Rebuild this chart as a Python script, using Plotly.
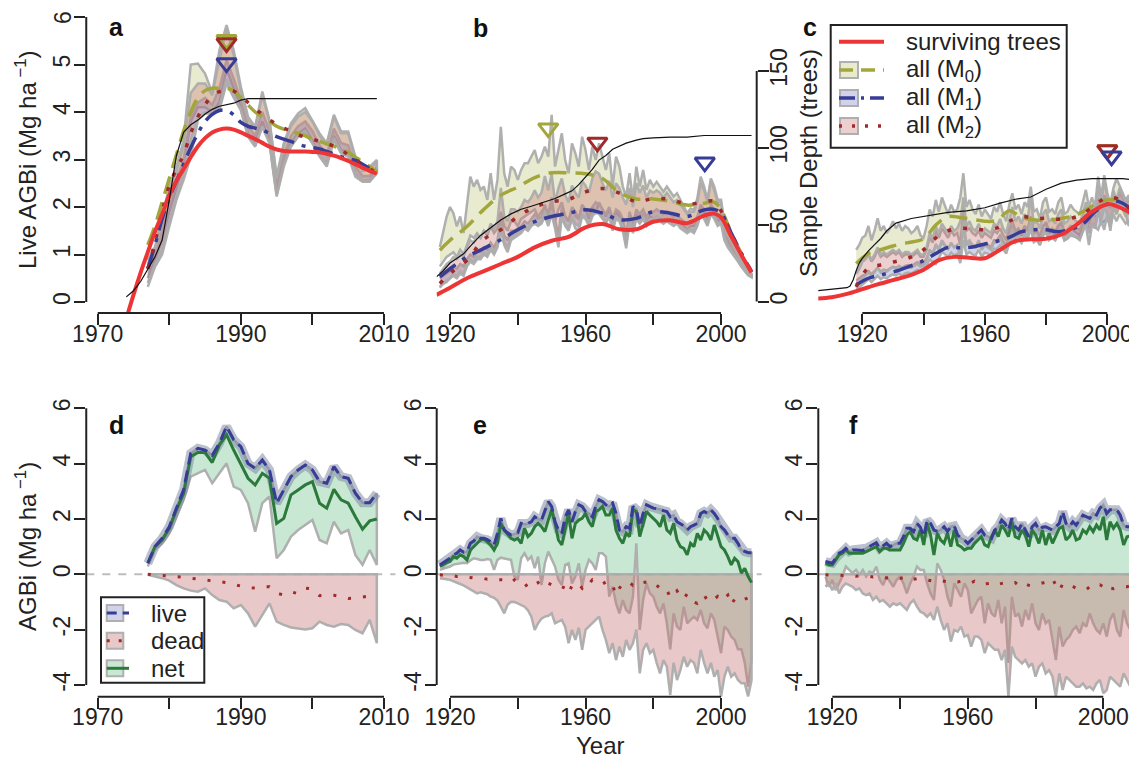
import plotly.graph_objects as go

# The page body adds an 8px margin, so the figure is drawn smaller and all
# reference pixel positions are shifted by that offset.
OFF = 8
W, H = 1137 - OFF, 758 - OFF
FONT = "Liberation Sans, Arial, sans-serif"
AX = "#222222"
BORDER = "rgba(172,172,172,0.95)"

# ---------------- colours ----------------
RED = "#ee3535"
OLIVE = "#a3a63a"
BLUE = "#373c96"
DRED = "#a02a2a"
GREEN = "#2b7a3b"
F_M0 = "rgba(189,195,112,0.33)"
F_M1 = "rgba(112,121,189,0.33)"
F_M2 = "rgba(198,112,112,0.33)"
F_NET = "rgba(118,198,148,0.40)"
F_DEAD = "rgba(198,118,118,0.40)"
F_LIVE = "rgba(120,130,160,0.50)"

# ================= DATA =================
# ---- panel a (live AGBi, site 1) ----
years_a = list(range(1977, 2010))
a_M0_hi = [0.88,1.16,1.8,2.43,2.85,3.4,5.0,5.02,4.81,4.4,5.3,5.83,5.3,4.53,3.9,3.69,4.43,3.83,2.64,3.34,3.76,3.97,4.08,3.83,3.55,3.34,3.94,3.59,3.59,3.06,2.78,2.85,2.99]
a_M0_lo = [0.5,0.9,1.3,1.9,2.4,2.9,3.8,4.1,4.1,4.0,4.2,4.9,4.5,4.1,3.55,3.35,3.8,3.4,2.3,2.95,3.35,3.55,3.65,3.4,3.1,2.9,3.5,3.2,3.15,2.7,2.55,2.55,2.75]
a_M1_hi = [0.7,1.0,1.5,2.1,2.55,3.0,3.9,4.2,4.3,4.15,4.5,5.1,4.7,4.25,3.7,3.5,4.0,3.6,2.45,3.1,3.5,3.7,3.8,3.6,3.3,3.1,3.65,3.35,3.3,2.85,2.65,2.65,2.85]
a_M1_lo = [0.32,0.74,1.0,1.59,2.15,2.57,3.06,3.83,3.97,3.97,4.04,4.6,4.3,4.04,3.48,3.27,3.69,3.34,2.22,2.85,3.27,3.48,3.55,3.34,3.06,2.85,3.41,3.13,3.06,2.64,2.53,2.53,2.71]
a_M2_hi = [0.8,1.1,1.7,2.3,2.75,3.3,4.4,4.6,4.6,4.35,5.1,5.75,5.2,4.45,3.85,3.65,4.35,3.8,2.6,3.3,3.7,3.9,4.0,3.8,3.5,3.3,3.9,3.55,3.55,3.0,2.75,2.8,2.95]
a_M2_lo = [0.4,0.8,1.1,1.7,2.2,2.7,3.4,3.9,4.0,4.0,4.1,4.7,4.35,4.05,3.5,3.3,3.7,3.35,2.25,2.9,3.3,3.5,3.6,3.35,3.1,2.9,3.45,3.15,3.1,2.7,2.55,2.55,2.72]
a_M0 = [1.2,1.6,2.1,2.6,3.1,3.6,4.0,4.3,4.45,4.5,4.5,4.5,4.45,4.3,4.15,4.0,3.9,3.8,3.7,3.64,3.6,3.55,3.5,3.43,3.38,3.33,3.28,3.22,3.15,3.05,2.95,2.85,2.75]
a_M1 = [0.7,1.2,1.75,2.2,2.55,2.9,3.25,3.55,3.8,3.95,4.03,4.03,3.94,3.78,3.7,3.66,3.62,3.55,3.48,3.43,3.38,3.32,3.28,3.25,3.22,3.17,3.12,3.06,3.02,2.98,2.9,2.81,2.75]
a_M2 = [0.7,1.25,1.9,2.45,2.8,3.1,3.55,3.9,4.15,4.35,4.43,4.45,4.44,4.32,4.2,4.07,3.95,3.84,3.74,3.66,3.6,3.52,3.47,3.43,3.38,3.34,3.28,3.2,3.1,3.0,2.9,2.8,2.72]
years_a_full = list(range(1974, 2010))
a_surv = [-0.35,0.15,0.62,1.05,1.48,1.85,2.25,2.55,2.8,3.05,3.28,3.45,3.57,3.63,3.65,3.63,3.57,3.5,3.43,3.35,3.27,3.21,3.18,3.17,3.17,3.17,3.16,3.15,3.12,3.08,3.03,2.97,2.9,2.83,2.76,2.7]
a_depth = [3,7,13,21,29,40,66,95,110,115,118,122,125,127,128,129,131,132,132,132,132,132,132,132,132,132,132,132,132,132,132,132,132,132,132,132]
a_peak_x = [1988, 1988, 1988]          # M0, M1, M2
a_peak_y = [5.52, 5.03, 5.45]

# ---- panel b ----
years_b = list(range(1917, 2010))
b_M0_hi = [1.16,1.52,1.8,
 2.0,1.87,1.59,1.8,1.45,2.08,2.64,2.43,2.57,2.36,
 2.43,2.15,2.71,2.15,2.57,3.69,2.71,2.43,2.85,2.78,
 2.57,2.78,2.92,2.92,3.06,3.2,2.92,3.06,3.27,3.06,
 3.94,2.85,3.2,3.55,2.99,2.71,3.34,3.13,2.85,3.48,
 3.2,2.78,3.27,2.99,3.34,3.06,2.78,3.13,2.43,3.06,
 2.85,2.43,2.22,2.71,2.15,2.85,2.43,2.78,2.36,2.57,
 2.43,2.53,2.43,2.32,2.43,2.32,2.22,2.29,2.15,2.0,
 1.87,1.97,1.94,2.18,2.64,2.43,2.15,2.6,2.43,2.15,
 2.15,1.66,1.45,1.31,1.16,1.02,0.88,0.74,0.64,0.6]
b_M0_lo = [0.75,0.85,0.95,
 1.0,1.05,0.95,1.1,1.0,1.2,1.4,1.35,1.45,1.35,
 1.5,1.4,1.6,1.45,1.55,1.9,1.6,1.5,1.7,1.7,
 1.6,1.75,1.8,1.85,1.9,1.95,1.8,1.9,2.0,1.85,
 2.2,1.7,1.95,2.1,1.8,1.7,2.0,1.9,1.75,2.05,
 1.95,1.75,2.0,1.85,2.1,1.95,1.8,1.95,1.6,1.9,
 1.8,1.6,1.45,1.75,1.5,1.85,1.65,1.85,1.65,1.8,
 1.75,1.8,1.75,1.7,1.75,1.7,1.65,1.7,1.65,1.6,
 1.5,1.6,1.6,1.75,2.0,1.85,1.7,1.95,1.85,1.7,
 1.75,1.4,1.25,1.15,1.0,0.9,0.78,0.67,0.58,0.55]
b_M1_hi = [0.5,0.55,0.6,
 0.65,0.75,0.7,0.8,0.75,0.9,1.0,0.95,1.05,1.05,
 1.15,1.1,1.25,1.15,1.3,1.75,1.4,1.3,1.5,1.5,
 1.55,1.6,1.7,1.65,1.75,1.85,1.75,1.8,2.05,1.8,
 2.05,1.7,1.4,2.0,1.8,1.7,1.95,1.8,1.75,2.0,
 1.95,1.8,2.0,2.1,2.05,1.95,1.85,2.0,1.75,1.95,
 1.9,1.75,1.35,1.9,1.65,1.95,1.85,1.95,1.8,1.9,
 1.9,1.95,1.9,1.85,1.9,1.85,1.8,1.85,1.75,1.7,
 1.65,1.7,1.65,1.8,2.05,1.95,1.8,2.05,1.95,1.8,
 1.85,1.45,1.3,1.18,1.05,0.94,0.81,0.7,0.6,0.56]
b_M1_lo = [0.32,0.38,0.42,
 0.5,0.55,0.5,0.6,0.55,0.75,0.85,0.8,0.9,0.9,
 1.0,0.95,1.1,1.0,1.15,1.5,1.2,1.05,1.3,1.35,
 1.4,1.45,1.55,1.5,1.6,1.65,1.6,1.65,1.8,1.6,
 1.85,1.55,1.15,1.8,1.6,1.5,1.75,1.55,1.5,1.8,
 1.75,1.6,1.8,1.9,1.85,1.75,1.65,1.8,1.5,1.75,
 1.7,1.5,1.13,1.7,1.45,1.75,1.65,1.75,1.6,1.7,
 1.7,1.75,1.7,1.65,1.7,1.65,1.6,1.65,1.55,1.5,
 1.45,1.5,1.45,1.6,1.85,1.75,1.6,1.85,1.75,1.6,
 1.65,1.3,1.15,1.05,0.95,0.85,0.74,0.64,0.56,0.52]
b_M2_hi = [0.6,0.7,0.8,
 0.85,0.95,0.9,1.0,0.95,1.15,1.3,1.25,1.4,1.35,
 1.5,1.45,1.65,1.55,1.7,2.4,1.8,1.7,1.95,1.95,
 1.9,2.0,2.15,2.1,2.2,2.35,2.2,2.3,2.65,2.35,
 2.7,2.1,2.4,2.6,2.25,2.1,2.45,2.3,2.2,2.55,
 2.45,2.3,2.6,2.75,2.7,2.5,2.35,2.55,2.2,2.5,
 2.4,2.2,2.05,2.4,2.0,2.5,2.3,2.45,2.2,2.35,
 2.3,2.35,2.3,2.2,2.3,2.2,2.1,2.15,2.05,1.95,
 1.85,1.9,1.9,2.1,2.5,2.35,2.1,2.55,2.35,2.1,
 2.1,1.6,1.4,1.28,1.13,1.0,0.86,0.72,0.63,0.58]
b_M2_lo = [0.3,0.4,0.45,
 0.5,0.6,0.55,0.65,0.6,0.8,0.9,0.85,0.95,0.95,
 1.05,1.0,1.15,1.05,1.2,1.6,1.25,1.15,1.35,1.4,
 1.45,1.5,1.6,1.55,1.65,1.75,1.65,1.7,1.9,1.7,
 1.9,1.6,1.25,1.85,1.65,1.55,1.8,1.65,1.6,1.85,
 1.8,1.65,1.85,1.95,1.9,1.8,1.7,1.85,1.6,1.8,
 1.75,1.6,1.2,1.75,1.5,1.8,1.7,1.8,1.65,1.75,
 1.75,1.8,1.75,1.7,1.75,1.7,1.65,1.7,1.6,1.55,
 1.5,1.55,1.5,1.65,1.9,1.8,1.65,1.9,1.8,1.65,
 1.7,1.35,1.2,1.1,0.98,0.88,0.76,0.66,0.57,0.54]
years_bm = [1917,1920,1925,1930,1935,1940,1945,1950,1955,1960,1965,1970,1975,1980,1985,1990,1995,1998,2000,2003,2006,2009]
b_M0 = [1.09,1.3,1.59,1.95,2.25,2.42,2.62,2.72,2.72,2.7,2.6,2.3,2.17,2.17,2.12,2.04,2.08,2.1,1.95,1.45,1.02,0.64]
b_M1 = [0.53,0.7,0.95,1.13,1.31,1.52,1.69,1.8,1.87,1.94,1.87,1.73,1.76,1.9,1.87,1.8,1.94,1.95,1.87,1.45,1.02,0.64]
b_M2 = [0.39,0.6,0.88,1.32,1.52,1.8,2.0,2.11,2.16,2.32,2.39,2.29,2.11,2.18,2.16,2.06,2.11,2.12,1.92,1.45,1.02,0.64]
years_bs = [1916,1920,1925,1930,1935,1940,1945,1950,1955,1960,1965,1970,1975,1980,1985,1990,1995,1998,2000,2003,2006,2009]
b_surv = [0.15,0.3,0.5,0.65,0.8,0.95,1.15,1.29,1.37,1.57,1.64,1.53,1.53,1.69,1.72,1.66,1.82,1.86,1.78,1.38,0.99,0.62]
years_bd = [1916,1918,1920,1922,1924,1926,1929,1932,1935,1938,1941,1944,1947,1951,1954,1956,1958,1960,1962,1964,1966,1968,1970,1972,1975,1977,1980,1985,1990,1995,2000,2009]
b_depth = [16,20,25,28,31,36,43,48,53,57,60,62,64,67,70,72,76,81,86,92,95,99,101,103,105,106,106.5,107,107,108,108,108]
b_peak_x = [1949.0, 1995.2, 1963.5]
b_peak_y = [3.66, 2.94, 3.36]

# ---- panel c ----
years_c = list(range(1918, 2010))
c_M0_hi = [1.1,1.2,
 1.35,1.4,1.6,1.3,1.5,1.76,1.5,1.6,1.45,1.55,
 1.7,1.55,1.65,1.5,1.6,1.55,1.45,1.5,1.6,1.4,
 1.35,1.6,1.95,1.8,2.15,1.9,2.2,2.0,1.85,2.05,
 1.9,1.95,2.2,2.71,2.0,2.15,1.95,1.85,2.05,1.8,
 1.95,1.85,1.75,2.0,1.9,2.1,1.85,1.7,2.05,2.29,
 1.95,2.05,1.85,2.1,2.0,2.43,1.9,1.95,1.75,2.1,
 2.2,1.9,1.95,1.85,2.1,2.2,1.85,1.9,2.05,1.95,
 1.9,1.85,2.1,2.36,2.0,2.2,2.0,2.64,2.2,2.67,
 2.3,2.05,2.4,2.6,2.45,2.3,2.15,2.25,2.1,1.95]
c_M0_lo = [0.6,0.7,
 0.85,0.9,1.0,0.85,0.95,1.1,0.95,1.0,0.95,1.0,
 1.05,1.0,1.05,0.95,1.0,1.0,0.95,1.0,1.05,0.95,
 0.95,1.1,1.35,1.25,1.5,1.35,1.55,1.45,1.35,1.5,
 1.4,1.45,1.2,1.95,1.5,1.55,1.45,1.4,1.5,1.35,
 1.45,1.4,1.35,1.5,1.45,1.55,1.4,1.3,1.55,1.7,
 1.5,1.55,1.4,1.6,1.5,1.8,1.45,1.5,1.35,1.6,
 1.65,1.45,1.5,1.4,1.6,1.65,1.4,1.45,1.55,1.5,
 1.45,1.4,1.6,1.75,1.5,1.65,1.55,1.95,1.65,1.7,
 1.75,1.6,1.85,1.7,1.85,1.75,1.65,1.7,1.6,1.5]
c_M1_hi = [0.45,0.5,
 0.55,0.58,0.65,0.58,0.64,0.72,0.64,0.68,0.66,0.7,
 0.74,0.72,0.76,0.72,0.76,0.78,0.76,0.8,0.84,0.8,
 0.82,0.92,1.08,1.02,1.18,1.1,1.25,1.18,1.12,1.22,
 1.15,1.2,1.0,1.55,1.2,1.25,1.18,1.15,1.28,1.12,
 1.22,1.2,1.15,1.3,1.3,1.4,1.28,1.2,1.45,1.6,
 1.45,1.52,1.42,1.6,1.52,1.8,1.45,1.5,1.38,1.6,
 1.68,1.5,1.55,1.48,1.62,1.68,1.48,1.52,1.6,1.58,
 1.55,1.52,1.68,1.85,1.65,1.85,1.8,2.2,1.95,2.25,
 2.1,1.98,2.25,2.1,2.3,2.2,2.08,2.15,2.0,1.87]
c_M1_lo = [0.25,0.3,
 0.38,0.42,0.48,0.42,0.48,0.55,0.48,0.52,0.5,0.55,
 0.58,0.56,0.6,0.55,0.6,0.62,0.6,0.64,0.68,0.64,
 0.66,0.76,0.9,0.84,0.8,0.92,1.06,1.0,0.95,1.04,
 0.98,1.02,0.82,1.3,1.0,1.05,1.0,0.98,1.1,0.95,
 1.04,1.02,0.98,1.12,1.12,1.2,1.1,1.02,1.25,1.38,
 1.25,1.32,1.24,1.4,1.33,1.55,1.26,1.3,1.2,1.4,
 1.46,1.3,1.35,1.3,1.42,1.46,1.3,1.33,1.4,1.38,
 1.36,1.33,1.48,1.62,1.2,1.62,1.58,1.52,1.7,1.52,
 1.85,1.5,2.0,1.85,2.05,1.95,1.85,1.6,1.78,1.72]
c_M2_hi = [0.6,0.7,
 0.85,0.9,1.0,0.9,1.0,1.15,1.0,1.05,1.0,1.05,
 1.1,1.05,1.1,1.0,1.05,1.05,1.0,1.05,1.1,1.0,
 1.0,1.15,1.45,1.35,1.6,1.45,1.65,1.55,1.45,1.6,
 1.5,1.55,1.7,2.2,1.6,1.7,1.55,1.5,1.65,1.45,
 1.55,1.5,1.45,1.65,1.6,1.75,1.55,1.45,1.75,2.0,
 1.7,1.8,1.65,1.85,1.75,2.2,1.65,1.7,1.55,1.85,
 1.95,1.7,1.75,1.65,1.85,1.95,1.65,1.7,1.8,1.75,
 1.7,1.65,1.85,2.1,1.8,2.0,1.85,2.45,2.05,2.55,
 2.2,2.0,2.35,2.15,2.4,2.25,2.1,2.2,2.05,1.9]
c_M2_lo = [0.3,0.4,
 0.5,0.55,0.62,0.55,0.62,0.72,0.62,0.68,0.64,0.7,
 0.74,0.7,0.76,0.7,0.74,0.74,0.72,0.76,0.8,0.74,
 0.76,0.88,1.1,1.02,1.22,1.12,1.3,1.2,1.12,1.25,
 1.15,1.2,0.95,1.7,1.25,1.3,1.2,1.15,1.3,1.1,
 1.2,1.15,1.1,1.25,1.25,1.35,1.2,1.1,1.35,1.55,
 1.35,1.4,1.28,1.45,1.38,1.7,1.3,1.35,1.2,1.45,
 1.55,1.35,1.4,1.3,1.5,1.55,1.3,1.35,1.45,1.4,
 1.35,1.3,1.5,1.7,1.45,1.65,1.55,1.95,1.7,2.0,
 1.85,1.7,2.0,1.85,2.05,1.95,1.8,1.9,1.78,1.7]
years_cm = [1918,1922,1926,1930,1935,1940,1944,1948,1952,1956,1960,1964,1968,1972,1976,1980,1984,1988,1992,1996,2000,2003,2006,2009]
c_M0 = [0.81,1.02,1.1,1.18,1.25,1.33,1.62,1.8,1.78,1.74,1.7,1.72,1.92,1.78,1.73,1.72,1.75,1.8,1.9,2.05,2.15,2.15,2.05,1.83]
c_M1 = [0.36,0.5,0.57,0.63,0.74,0.87,1.02,1.15,1.14,1.16,1.22,1.28,1.36,1.48,1.52,1.52,1.48,1.53,1.64,1.9,2.06,2.12,2.04,1.83]
c_M2 = [0.32,0.72,0.78,0.84,0.92,1.1,1.35,1.5,1.55,1.54,1.52,1.56,1.7,1.8,1.76,1.76,1.74,1.76,1.85,2.05,2.2,2.18,2.05,1.81]
years_cs = [1905,1910,1915,1920,1925,1930,1935,1940,1945,1950,1955,1960,1965,1970,1975,1980,1985,1990,1995,2000,2003,2006,2009]
c_surv = [0.07,0.1,0.17,0.27,0.37,0.46,0.55,0.68,0.88,0.95,0.93,0.92,1.1,1.28,1.32,1.33,1.42,1.63,1.9,2.06,2.02,1.93,1.81]
years_cd = [1905,1915,1916,1917,1918,1919,1920,1922,1924,1926,1928,1931,1936,1942,1948,1954,1960,1965,1970,1975,1980,1985,1990,1995,2000,2005,2009]
c_depth = [7,9,10,14,20,25,28,33,37,41,46,51,54,56,58,59,61,64,66.5,68,73,77,79,80,80,80,79]
c_peak_x = [2000.0, 2001.4, 2000.0]
c_peak_y = [3.2, 3.07, 3.2]

# ---- panel d (1977-2009) ----
d_live = [0.4,1.0,1.3,1.72,2.39,3.05,4.37,4.55,4.49,4.3,4.73,5.34,4.86,4.61,4.0,3.83,4.13,3.77,2.57,3.05,3.53,3.77,3.95,3.77,3.35,3.29,3.89,3.53,3.47,2.93,2.59,2.59,2.93]
d_net = [0.4,1.0,1.24,1.66,2.33,2.93,4.25,4.4,4.4,4.04,4.67,5.04,4.49,3.95,3.47,3.23,3.65,3.47,1.84,2.02,2.87,3.05,3.23,3.35,2.57,2.39,3.07,2.69,2.57,2.08,1.63,1.93,2.0]
d_net_lo = [0.28,0.88,1.12,1.48,2.08,2.69,3.53,3.65,3.77,3.29,3.65,4.01,3.17,3.05,2.57,1.54,2.57,2.81,0.58,0.88,1.36,1.6,1.78,1.96,1.24,1.12,1.9,1.48,1.6,0.7,0.34,0.88,0.34]
d_dead = [0.0,-0.02,-0.03,-0.05,-0.08,-0.11,-0.14,-0.17,-0.2,-0.22,-0.25,-0.3,-0.37,-0.43,-0.48,-0.5,-0.45,-0.45,-0.68,-0.75,-0.63,-0.7,-0.5,-0.53,-0.77,-0.75,-0.76,-0.8,-0.87,-0.86,-0.82,-0.79,-0.75]
d_dead_lo = [-0.02,-0.08,-0.14,-0.23,-0.39,-0.51,-0.59,-0.63,-0.51,-0.75,-0.93,-0.99,-1.23,-1.11,-1.41,-1.89,-1.47,-1.05,-1.71,-1.83,-1.92,-1.95,-1.99,-1.95,-1.71,-1.83,-1.89,-1.8,-1.83,-2.01,-2.13,-1.65,-2.49]

# ---- panel e (1917-2009) ----
years_e = list(range(1917, 2010))
e_live = [0.34,0.42,0.5,
 0.58,0.7,0.76,0.88,0.8,0.82,1.12,1.2,1.36,1.3,
 1.3,1.25,1.18,1.05,1.48,2.02,1.6,1.5,1.42,1.45,
 1.5,1.84,1.8,1.84,1.9,2.08,2.0,1.96,2.33,2.63,
 2.45,1.9,1.6,1.48,2.08,2.33,1.9,2.27,2.51,2.45,
 2.27,2.2,2.08,2.45,2.69,2.63,2.51,2.45,2.57,2.2,
 1.6,1.54,1.72,1.66,2.45,2.35,1.72,2.2,2.51,2.45,
 2.39,2.37,2.35,2.3,2.27,2.08,2.14,1.9,1.84,1.75,
 1.6,1.72,1.78,1.84,2.2,2.27,2.2,2.33,2.2,2.02,
 1.72,1.6,1.42,1.3,1.3,1.12,0.88,0.82,0.78,0.78]
e_net = [0.28,0.36,0.42,
 0.46,0.64,0.58,0.7,0.64,0.52,0.88,1.0,1.12,1.24,
 1.27,1.18,1.06,0.88,1.12,1.84,1.6,1.45,1.3,1.24,
 1.3,1.12,1.66,1.36,1.48,1.72,1.84,1.72,1.54,1.96,
 2.33,1.84,1.24,1.06,1.6,2.2,1.3,1.84,1.96,2.02,
 2.2,1.9,1.72,2.27,2.33,2.45,2.14,2.14,2.39,1.6,
 1.3,1.12,1.48,1.36,2.33,2.27,1.36,1.84,2.27,2.14,
 2.02,1.9,1.72,2.14,1.6,1.48,1.84,1.24,1.0,0.94,
 0.7,1.12,1.0,1.48,1.24,1.6,1.48,1.24,1.78,1.36,
 1.0,0.88,0.64,0.34,0.58,0.46,0.04,0.22,-0.08,-0.3]
e_net_lo = [0.16,0.2,0.24,
 0.28,0.35,0.38,0.4,0.42,0.4,0.5,0.58,0.55,0.52,
 0.52,0.55,0.52,0.16,0.52,0.6,0.58,0.55,0.52,-0.08,
 -0.2,0.58,0.76,0.52,0.64,0.22,0.64,-0.39,0.4,0.82,
 0.52,0.28,-0.2,-0.39,0.34,0.4,-0.33,-0.08,0.4,-0.45,
 0.16,0.52,0.4,0.16,0.76,0.76,0.64,-0.81,-0.45,-1.05,
 -1.41,-0.93,-1.29,-1.41,-0.81,1.12,-2.01,-0.93,-0.33,-0.69,
 -0.81,-1.17,-1.41,-1.05,-1.77,-2.71,-1.41,-1.89,-2.01,-1.17,
 -1.77,-1.65,-1.53,-1.65,-1.29,-1.77,-1.95,-1.41,-1.65,-2.25,
 -2.85,-1.89,-2.01,-2.25,-2.37,-2.71,-2.71,-3.2,-4.06,-3.1]
e_dead = [-0.02,-0.04,-0.05,
 -0.06,-0.05,-0.08,-0.07,-0.1,-0.1,-0.12,-0.14,-0.15,-0.15,
 -0.15,-0.18,-0.17,-0.2,-0.2,-0.22,-0.2,-0.25,-0.3,-0.2,
 -0.28,-0.35,-0.3,-0.5,-0.4,-0.35,-0.3,-0.45,-0.35,-0.32,
 -0.38,-0.4,-0.35,-0.45,-0.5,-0.7,-0.4,-0.45,-0.35,-0.5,
 -0.3,-0.35,-0.2,-0.3,-0.3,-0.35,-0.28,-0.45,-0.4,-0.75,
 -0.5,-0.35,-0.38,-0.3,-0.4,-0.35,-0.25,-0.3,-0.28,-0.35,
 -0.3,-0.4,-0.5,-0.6,-0.55,-0.85,-0.75,-0.6,-0.8,-0.9,
 -0.7,-0.85,-1.0,-1.05,-0.9,-0.75,-0.95,-1.0,-0.9,-0.8,
 -0.95,-0.85,-0.75,-1.1,-0.9,-0.8,-0.85,-0.9,-0.85,-0.9]
e_dead_lo = [-0.14,-0.16,-0.18,
 -0.2,-0.25,-0.3,-0.35,-0.4,-0.45,-0.55,-0.62,-0.69,-0.65,
 -0.69,-0.72,-0.81,-0.85,-0.95,-1.17,-1.41,-1.1,-0.99,-1.0,
 -1.05,-1.1,-1.17,-1.3,-1.53,-2.01,-1.77,-1.6,-1.53,-1.5,
 -1.41,-1.77,-1.7,-1.65,-1.9,-2.49,-2.01,-2.37,-1.93,-2.73,
 -2.01,-1.9,-1.77,-1.65,-1.53,-2.01,-2.37,-2.85,-2.49,-3.1,
 -2.61,-2.98,-2.37,-2.73,-2.49,-2.0,-3.58,-2.73,-2.49,-2.85,
 -2.73,-3.2,-3.58,-3.1,-3.34,-4.36,-3.2,-3.82,-3.46,-2.98,
 -3.34,-3.1,-3.2,-3.58,-2.73,-3.2,-3.58,-3.2,-3.7,-3.46,
 -4.42,-3.7,-3.34,-3.7,-3.58,-3.82,-3.94,-3.94,-4.42,-3.82]

# ---- panel f (1918-2009) ----
years_f = list(range(1918, 2010))
f_live = [0.46,0.42,
 0.4,0.58,0.76,0.82,0.94,0.82,0.88,0.88,0.88,0.86,
 0.94,1.0,1.06,1.14,0.94,1.02,1.12,1.0,1.06,1.12,
 1.12,1.36,1.66,1.66,1.54,1.84,1.7,1.36,1.96,1.84,
 1.6,1.55,1.6,1.72,1.55,1.72,1.75,1.42,1.3,1.24,
 1.12,1.24,1.36,1.48,1.6,1.42,1.36,1.3,1.6,1.72,
 1.96,1.84,1.6,2.02,1.72,1.6,1.84,1.6,1.36,1.72,
 1.84,1.6,1.7,1.72,1.66,1.6,1.72,1.84,2.27,1.84,
 1.72,1.9,1.78,1.96,2.14,2.08,2.02,2.2,2.14,2.39,
 2.51,2.2,2.33,2.33,2.33,2.14,1.78,1.72,1.72,1.72]
f_net = [0.4,0.34,
 0.34,0.52,0.7,0.76,0.88,0.76,0.76,0.78,0.76,0.76,
 0.82,0.88,0.94,1.0,0.82,0.94,0.94,0.88,0.88,0.88,
 0.88,1.12,1.42,1.54,1.3,1.24,1.6,1.06,1.84,1.42,
 0.7,1.48,1.24,1.12,1.48,1.0,1.6,1.06,1.0,0.88,
 0.94,0.94,1.12,1.24,1.36,1.06,1.0,1.36,1.6,1.36,
 1.78,1.6,1.36,1.9,1.36,1.3,1.6,1.42,1.0,1.6,
 1.42,1.12,1.6,1.06,1.48,1.12,1.42,1.66,1.72,1.24,
 1.36,1.6,1.24,1.3,1.6,1.48,1.72,1.54,1.78,1.6,
 2.08,1.24,1.9,1.66,1.84,1.6,1.06,1.36,1.39,1.36]
f_net_lo = [-0.08,-0.45,
 -0.2,-0.57,-0.33,-0.08,0.28,0.16,0.04,0.16,-0.02,0.16,
 -0.08,0.1,0.04,0.28,-0.2,-0.39,-0.08,-0.26,-0.45,-0.2,
 -0.08,-0.33,-0.69,-0.33,-0.08,0.28,0.16,0.16,-0.33,-0.69,
 -0.93,0.4,0.16,-0.2,-0.81,-1.17,-0.33,-0.57,-0.81,-0.33,
 -0.57,-1.41,-1.17,-0.93,-0.81,-1.77,-1.05,-1.41,-1.53,-0.93,
 -1.77,-1.17,-3.2,-0.81,-1.53,-1.41,-1.89,-1.29,-1.65,-1.05,
 -1.77,-2.01,-1.41,-1.77,-1.65,-2.37,-3.1,-1.89,-2.61,-2.37,
 -2.25,-2.01,-1.89,-2.13,-1.77,-1.89,-1.41,-1.77,-2.01,-2.13,
 -1.77,-2.25,-1.65,-1.41,-2.01,-2.25,-1.29,-1.77,-2.01,-1.65]
f_dead = [-0.02,-0.03,
 -0.03,-0.04,-0.03,-0.05,-0.05,-0.04,-0.06,-0.07,-0.06,-0.08,
 -0.08,-0.07,-0.1,-0.09,-0.12,-0.1,-0.13,-0.12,-0.1,-0.12,
 -0.15,-0.12,-0.2,-0.15,-0.18,-0.16,-0.2,-0.18,-0.2,-0.22,
 -0.25,-0.2,-0.22,-0.25,-0.27,-0.3,-0.26,-0.28,-0.25,-0.3,
 -0.28,-0.3,-0.25,-0.32,-0.3,-0.35,-0.33,-0.3,-0.28,-0.36,
 -0.33,-0.3,-0.35,-0.32,-0.3,-0.4,-0.45,-0.35,-0.4,-0.42,
 -0.38,-0.35,-0.3,-0.28,-0.2,-0.15,-0.4,-0.6,-0.35,-0.32,
 -0.38,-0.45,-0.5,-0.48,-0.5,-0.55,-0.45,-0.5,-0.4,-0.38,
 -0.45,-0.6,-0.5,-0.52,-0.48,-0.46,-0.44,-0.45,-0.42,-0.43]
f_dead_lo = [-0.45,-0.33,
 -0.57,-0.33,-0.69,-0.45,-0.33,-0.39,-0.45,-0.57,-0.51,-0.69,
 -0.75,-0.69,-0.93,-0.81,-0.99,-0.93,-1.05,-1.17,-1.05,-1.11,
 -1.05,-1.17,-1.29,-1.05,-0.93,-1.17,-1.35,-1.41,-1.53,-1.41,
 -1.65,-1.17,-1.65,-2.01,-1.77,-2.43,-2.01,-2.07,-1.89,-2.25,
 -2.19,-2.61,-2.25,-2.25,-2.37,-2.85,-2.49,-2.61,-2.73,-2.73,
 -3.1,-2.73,-4.42,-2.61,-2.98,-3.1,-3.22,-3.1,-3.34,-3.22,
 -3.7,-3.34,-3.22,-3.58,-3.46,-3.7,-4.42,-3.58,-4.18,-3.7,
 -3.82,-3.94,-4.06,-4.06,-3.94,-4.12,-4.06,-4.18,-3.94,-3.82,
 -4.3,-4.18,-3.7,-3.82,-3.94,-4.06,-3.58,-3.82,-4.06,-3.82]

# sanity checks on lengths
for arr in [a_M0_hi,a_M0_lo,a_M1_hi,a_M1_lo,a_M2_hi,a_M2_lo,a_M0,a_M1,a_M2,d_live,d_net,d_net_lo,d_dead,d_dead_lo]:
    assert len(arr) == len(years_a), len(arr)
assert len(a_surv) == len(years_a_full) and len(a_depth) == len(years_a_full)
for arr in [b_M0_hi,b_M0_lo,b_M1_hi,b_M1_lo,b_M2_hi,b_M2_lo]:
    assert len(arr) == len(years_b), len(arr)
for arr in [c_M0_hi,c_M0_lo,c_M1_hi,c_M1_lo,c_M2_hi,c_M2_lo]:
    assert len(arr) == len(years_c), len(arr)
for arr in [e_live,e_net,e_net_lo,e_dead,e_dead_lo]:
    assert len(arr) == len(years_e), len(arr)
for arr in [f_live,f_net,f_net_lo,f_dead,f_dead_lo]:
    assert len(arr) == len(years_f), len(arr)
assert len(b_M0) == len(years_bm) and len(b_surv) == len(years_bs) and len(b_depth) == len(years_bd)
assert len(c_M0) == len(years_cm) and len(c_surv) == len(years_cs) and len(c_depth) == len(years_cd)

# ================= FIGURE =================
fig = go.Figure()


def band(xa, ya, x, lo, hi, fill, bw=2.5):
    fig.add_trace(go.Scatter(x=list(x) + list(x)[::-1], y=list(hi) + list(lo)[::-1],
                             mode="lines", fill="toself", fillcolor=fill,
                             line=dict(color=BORDER, width=bw), xaxis=xa, yaxis=ya,
                             hoverinfo="skip", showlegend=False))


def line(xa, ya, x, y, color, width, dash="solid", shape="linear"):
    fig.add_trace(go.Scatter(x=x, y=y, mode="lines",
                             line=dict(color=color, width=width, dash=dash, shape=shape),
                             xaxis=xa, yaxis=ya, hoverinfo="skip", showlegend=False))


D_M0 = "18px,9px"
D_M1 = "20px,8px,4px,8px"
D_M2 = "4px,12px"


def top_panel(xa, ya, yd, yrs, bands, yrs_m, means, yrs_s, surv, yrs_d, depth, px, py, mean_shape):
    (m0h, m0l, m1h, m1l, m2h, m2l) = bands
    band(xa, ya, yrs, m0l, m0h, F_M0)
    band(xa, ya, yrs, m1l, m1h, F_M1)
    band(xa, ya, yrs, m2l, m2h, F_M2)
    line(xa, ya, yrs_m, means[0], OLIVE, 3.5, D_M0, mean_shape)
    line(xa, ya, yrs_m, means[1], BLUE, 3.5, D_M1, mean_shape)
    line(xa, ya, yrs_m, means[2], DRED, 3.5, D_M2, mean_shape)
    line(xa, ya, yrs_s, surv, RED, 4, "solid", "spline")
    for i, c in zip([0, 2, 1], [OLIVE, DRED, BLUE]):
        fig.add_trace(go.Scatter(x=[px[i]], y=[py[i]], mode="markers",
                                 marker=dict(symbol="triangle-down-open", size=17,
                                             color=c, line=dict(color=c, width=3)),
                                 xaxis=xa, yaxis=ya, hoverinfo="skip", showlegend=False))
    line(xa, yd, yrs_d, depth, "#111111", 1.2)


top_panel("x", "y", "y7", years_a, (a_M0_hi, a_M0_lo, a_M1_hi, a_M1_lo, a_M2_hi, a_M2_lo),
          years_a, (a_M0, a_M1, a_M2), years_a_full, a_surv, years_a_full, a_depth,
          a_peak_x, a_peak_y, "spline")
top_panel("x2", "y2", "y8", years_b, (b_M0_hi, b_M0_lo, b_M1_hi, b_M1_lo, b_M2_hi, b_M2_lo),
          years_bm, (b_M0, b_M1, b_M2), years_bs, b_surv, years_bd, b_depth,
          b_peak_x, b_peak_y, "spline")
top_panel("x3", "y3", "y9", years_c, (c_M0_hi, c_M0_lo, c_M1_hi, c_M1_lo, c_M2_hi, c_M2_lo),
          years_cm, (c_M0, c_M1, c_M2), years_cs, c_surv, years_cd, c_depth,
          c_peak_x, c_peak_y, "spline")


def bottom_panel(xa, ya, yrs, live, net, net_lo, dead, dead_lo):
    band(xa, ya, yrs, net_lo, live, F_NET)
    band(xa, ya, yrs, dead_lo, [0.0] * len(yrs), F_DEAD)
    line(xa, ya, yrs, live, F_LIVE, 9)
    line(xa, ya, yrs, net, GREEN, 3)
    line(xa, ya, yrs, live, BLUE, 3, "12px,6px")
    line(xa, ya, yrs, dead, DRED, 3, "3px,12px")


bottom_panel("x4", "y4", years_a, d_live, d_net, d_net_lo, d_dead, d_dead_lo)
bottom_panel("x5", "y5", years_e, e_live, e_net, e_net_lo, e_dead, e_dead_lo)
bottom_panel("x6", "y6", years_f, f_live, f_net, f_net_lo, f_dead, f_dead_lo)


# ================= AXES =================
def fx(p):
    return (p - OFF) / W


def fy(p):
    return 1 - (p - OFF) / H


TOP_DOM = [fy(313), fy(5.6 + 2.4)]
BOT_DOM = [fy(696.7), fy(397.2)]
TOP_RANGE = [-0.2316, 6.24 - 2.4 / 47.5]
BOT_RANGE = [-4.423, 6.4]
DEPTH_RANGE = [-7.48, 192.5 - 2.4 / 1.5367]

tick_font = dict(family=FONT, size=23, color=AX)
common = dict(showgrid=False, zeroline=False, showline=False, ticks="outside",
              ticklen=11, tickwidth=2, tickcolor=AX, tickfont=tick_font, fixedrange=True,
              ticklabeloverflow="allow")

x70 = dict(tickvals=[1970, 1980, 1990, 2000, 2010], ticktext=["1970", " ", "1990", " ", "2010"])
x20 = dict(tickvals=[1920, 1940, 1960, 1980, 2000], ticktext=["1920", " ", "1960", " ", "2000"])
XSO = dict(ticklabelstandoff=-11)
YSO = dict(ticklabelstandoff=-5)

layout_axes = dict(
    xaxis=dict(domain=[fx(86.25), fx(395.45)], range=[1968.4, 2011.6], anchor="y", **x70, **XSO, **common),
    xaxis2=dict(domain=[fx(436.7), fx(761.7)], range=[1916.07, 2012.0], anchor="y2", **x20, **XSO, **common),
    xaxis3=dict(domain=[fx(818.3), 1.0], range=[1905.63, 2009.7], anchor="y3", **x20, **XSO, **common),
    xaxis4=dict(domain=[fx(86.25), fx(395.45)], range=[1968.4, 2011.6], anchor="y4", **x70, **XSO, **common),
    xaxis5=dict(domain=[fx(436.7), fx(761.7)], range=[1916.07, 2012.0], anchor="y5", **x20, **XSO, **common),
    xaxis6=dict(domain=[fx(818.3), 1.0], range=[1915.87, 2009.95], anchor="y6", **x20, **XSO, **common),
)
# the top "6" label sits against the page edge, so it is written as an annotation below
ytop = dict(tickvals=[0, 1, 2, 3, 4, 5, 6], ticktext=["0", "1", "2", "3", "4", "5", " "])
ybot = dict(tickvals=[-4, -2, 0, 2, 4, 6], ticktext=["-4", "-2", "0", "2", "4", "6"])
hidden = dict(showgrid=False, zeroline=False, showline=False, ticks="", showticklabels=False, fixedrange=True)
layout_axes.update(
    yaxis=dict(domain=TOP_DOM, range=TOP_RANGE, anchor="x", tickangle=-90, **ytop, **YSO, **common),
    yaxis2=dict(domain=TOP_DOM, range=TOP_RANGE, anchor="x2", **hidden),
    yaxis3=dict(domain=TOP_DOM, range=TOP_RANGE, anchor="x3", **hidden),
    yaxis4=dict(domain=BOT_DOM, range=BOT_RANGE, anchor="x4", tickangle=-90, **ybot, **YSO, **common),
    yaxis5=dict(domain=BOT_DOM, range=BOT_RANGE, anchor="x5", tickangle=-90, **ybot, **YSO, **common),
    yaxis6=dict(domain=BOT_DOM, range=BOT_RANGE, anchor="x6", tickangle=-90, **ybot, **YSO, **common),
    yaxis7=dict(overlaying="y", range=DEPTH_RANGE, anchor="x", **hidden),
    yaxis8=dict(overlaying="y2", range=DEPTH_RANGE, anchor="free", side="right",
                position=fx(756.7), tickangle=-90, tickvals=[0, 50, 100, 150],
                ticktext=["0", "50", "100", "150"], ticklabelstandoff=-9, **common),
    yaxis9=dict(overlaying="y3", range=DEPTH_RANGE, anchor="x3", **hidden),
)

# ================= SHAPES (axis lines, zero lines, legends) =================
shapes = []
AXL = dict(color=AX, width=2)
for xr, yr, a, b in [("x", "y domain", 1970, 2010), ("x2", "y2 domain", 1920, 2000),
                     ("x3", "y3 domain", 1920, 2000), ("x4", "y4 domain", 1970, 2010),
                     ("x5", "y5 domain", 1920, 2000), ("x6", "y6 domain", 1920, 2000)]:
    shapes.append(dict(type="line", xref=xr, yref=yr, x0=a, x1=b, y0=0, y1=0, line=AXL))
for xr, yr, a, b in [("x domain", "y", 0, 6), ("x4 domain", "y4", -4, 6),
                     ("x5 domain", "y5", -4, 6), ("x6 domain", "y6", -4, 6)]:
    shapes.append(dict(type="line", xref=xr, yref=yr, x0=0, x1=0, y0=a, y1=b, line=AXL))
shapes.append(dict(type="line", xref="paper", yref="y8", x0=fx(756.7), x1=fx(756.7), y0=0, y1=150, line=AXL))
for xr, yr in [("x4 domain", "y4"), ("x5 domain", "y5"), ("x6 domain", "y6")]:
    shapes.append(dict(type="line", xref=xr, yref=yr, x0=0, x1=1, y0=0, y1=0, layer="below",
                       line=dict(color="#bdbdbd", width=2, dash="8px,8px")))


def pline(x0, x1, y, color, width, dash="solid"):
    shapes.append(dict(type="line", xref="paper", yref="paper", x0=fx(x0), x1=fx(x1),
                       y0=fy(y), y1=fy(y), line=dict(color=color, width=width, dash=dash)))


def prect(x0, x1, y0, y1, fill, lc, lw):
    shapes.append(dict(type="rect", xref="paper", yref="paper", x0=fx(x0), x1=fx(x1),
                       y0=fy(y1), y1=fy(y0), fillcolor=fill, line=dict(color=lc, width=lw)))


annotations = []


def ptext(x, y, text, size=24, anchor="left", angle=0):
    annotations.append(dict(xref="paper", yref="paper", x=fx(x), y=fy(y), text=text,
                            showarrow=False, xanchor=anchor, yanchor="middle", textangle=angle,
                            font=dict(family=FONT, size=size, color=AX)))


# legend in panel c
prect(830.7, 1066.7, 25, 147.7, "white", AX, 2)
pline(839, 884, 41.7, RED, 4)
ptext(904, 41.7, "surviving trees")
for yy, fcol, lcol, dsh, lab in [(70, F_M0, OLIVE, "14px,8px", "all (M<sub>0</sub>)"),
                                 (98, F_M1, BLUE, "16px,6px,3px,6px", "all (M<sub>1</sub>)"),
                                 (126, F_M2, DRED, "3px,10px", "all (M<sub>2</sub>)")]:
    prect(840, 858, yy - 8, yy + 8, fcol, BORDER, 2)
    pline(839, 884, yy, lcol, 3.5, dsh)
    ptext(904, yy, lab)

# legend in panel d
prect(101, 204.3, 597.3, 682.7, "white", AX, 2)
for yy, fcol, lcol, dsh, lab in [(613, F_M1, BLUE, "10px,6px", "live"),
                                 (640.7, F_DEAD, DRED, "3px,9px", "dead"),
                                 (668.3, F_NET, GREEN, "solid", "net")]:
    prect(106.7, 123.3, yy - 8, yy + 8, fcol, BORDER, 2)
    pline(106.7, 129, yy, lcol, 3, dsh)
    ptext(149, yy, lab)

# panel letters
for x, y, t in [(117, 27, "a"), (480, 28, "b"), (810, 27, "c"),
                (117, 425, "d"), (480, 425, "e"), (853, 425, "f")]:
    annotations.append(dict(xref="paper", yref="paper", x=fx(x), y=fy(y), text="<b>%s</b>" % t,
                            showarrow=False, xanchor="center", yanchor="middle",
                            font=dict(family=FONT, size=25, color="#111111")))

# top tick label "6" of panel a
ptext(63, 18, "6", size=23, anchor="center", angle=-90)

# axis titles
ptext(26, 160, "Live AGBi (Mg ha<sup> −1</sup>)", anchor="center", angle=-90)
ptext(26, 547, "AGBi (Mg ha<sup> −1</sup>)", anchor="center", angle=-90)
ptext(808, 163, "Sample Depth (trees)", anchor="center", angle=-90)
ptext(600, 745, "Year", anchor="center")

fig.update_layout(width=W, height=H,
                  margin=dict(l=0, r=0, t=0, b=0, pad=0, autoexpand=False),
                  paper_bgcolor="white", plot_bgcolor="rgba(0,0,0,0)", showlegend=False,
                  font=dict(family=FONT, size=23, color=AX),
                  shapes=shapes, annotations=annotations, **layout_axes)

fig.write_html("out.html")
